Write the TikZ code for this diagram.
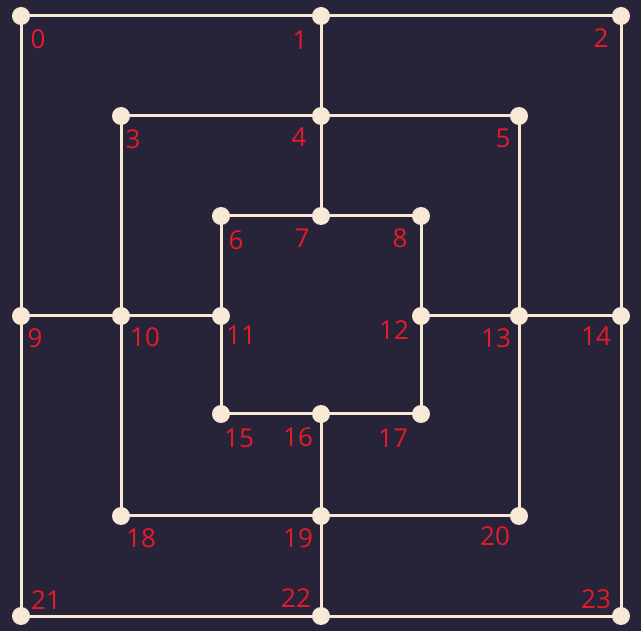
\documentclass[tikz,border=0pt]{standalone}
\usepackage{fontspec}
\setmainfont{Open Sans}
\definecolor{bg}{HTML}{27243A}
\definecolor{cream}{HTML}{F8E9D6}
\definecolor{lab}{HTML}{E51B2A}
\begin{document}
\begin{tikzpicture}[x=1pt,y=-1pt,
  dot/.style={circle,fill=cream,inner sep=0pt,minimum size=18pt},
  edge/.style={draw=cream,line width=3pt},
  num/.style={text=lab,font=\fontsize{26}{26}\selectfont,inner sep=0pt,anchor=center}]
\fill[bg] (0,0) rectangle (641,631);
\useasboundingbox (0,0) rectangle (641,631);
% points
\foreach \n/\x/\y in {0/21/16,1/321/16,2/621/16,3/121/116,4/321/116,5/519/116,
  6/221/216,7/321/216,8/421/216,9/21/316,10/121/316,11/221/316,12/421/316,
  13/519/316,14/621/316,15/221/414,16/321/414,17/421/414,18/121/516,
  19/321/516,20/519/516,21/21/616,22/321/616,23/621/616}
  \coordinate (c\n) at (\x,\y);
% edges
\draw[edge] (c0) -- (c2) -- (c23) -- (c21) -- cycle;
\draw[edge] (c3) -- (c5) -- (c20) -- (c18) -- cycle;
\draw[edge] (c6) -- (c8) -- (c17) -- (c15) -- cycle;
\draw[edge] (c1) -- (c7);
\draw[edge] (c16) -- (c22);
\draw[edge] (c9) -- (c11);
\draw[edge] (c12) -- (c14);
% dots
\foreach \n in {0,...,23} \node[dot] (p\n) at (c\n) {};
% labels
\foreach \n/\x/\y in {0/38/39,1/300/40,2/601/38,3/133/139,4/299/137,5/503/138,
  6/236/240,7/302/238,8/400/238,9/35/338,10/145/337,11/241/335,12/394/330,
  13/496/338,14/596/336,15/239/438,16/298/437,17/393/438,18/141/538,
  19/298/538,20/495/536,21/46/600,22/296/598,23/596/599}
  \node[num] (l\n) at (\x,\y) {\n};
\end{tikzpicture}
\end{document}
